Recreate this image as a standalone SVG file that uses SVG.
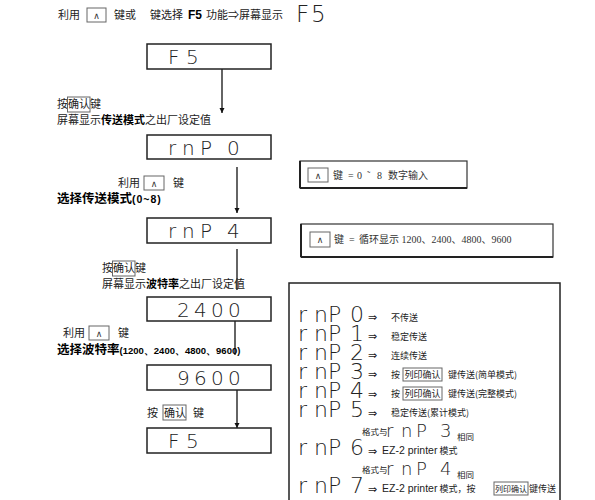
<svg xmlns="http://www.w3.org/2000/svg" width="595" height="500" viewBox="0 0 595 500">
<style>
.t{font-family:"Noto Sans CJK SC","Liberation Sans",sans-serif;font-size:11px;fill:#222}
.b{font-weight:bold;fill:#000}
.s{font-family:"Noto Sans CJK SC","Liberation Sans",sans-serif;font-size:9px;fill:#222}
.ar{font-family:"DejaVu Sans",sans-serif;font-size:11px;fill:#222}
.sr{font-family:"Liberation Serif","Noto Sans CJK SC",serif;font-size:10px;fill:#333}
.seg{font-family:"DejaVu Sans",sans-serif;font-weight:200;fill:#222}
.disp{fill:#fff;stroke:#222;stroke-width:1.5}
.key{fill:#fff;stroke:#666;stroke-width:1}
.keyt{font-family:"DejaVu Sans",sans-serif;font-size:9px;fill:#333}
.conn{stroke:#111;stroke-width:1.3;fill:none}
.lat{font-family:"Liberation Sans",sans-serif}
</style>
<defs>
<marker id="ah" viewBox="0 0 10 10" refX="10" refY="5" markerWidth="5" markerHeight="6" orient="auto" markerUnits="userSpaceOnUse">
<path d="M0,0 L10,5 L0,10 z" fill="#111"/>
</marker>
</defs>

<g id="top-line">
<text class="t" x="58" y="19">利用</text>
<rect class="key" x="87" y="8" width="19" height="14"/>
<text class="keyt" x="96.5" y="18.5" text-anchor="middle">∧</text>
<text class="t" x="114" y="19">键或</text>
<text class="t" x="150" y="19">键选择</text>
<text class="t b lat" x="188" y="19" style="font-size:12px">F5</text>
<text class="t" x="206" y="19">功能⇒屏幕显示</text>
<text class="seg" x="296 311" y="22" font-size="23">F5</text>
</g>

<g id="connectors">
<line class="conn" x1="222" y1="69" x2="222" y2="113" marker-end="url(#ah)"/>
<line class="conn" x1="237" y1="167" x2="237" y2="213" marker-end="url(#ah)"/>
<line class="conn" x1="237" y1="249" x2="237" y2="290"/>
<line class="conn" x1="235" y1="321" x2="235" y2="355"/>
<line class="conn" x1="237" y1="390" x2="237" y2="428" marker-end="url(#ah)"/>
</g>

<g id="node-f5-1">
<rect class="disp" x="147" y="44" width="124" height="25"/>
<text class="seg" x="168 186" y="64" font-size="20">F5</text>
</g>

<g id="label-1">
<text class="t" x="57" y="108">按</text>
<rect class="key" x="67.5" y="97" width="22.5" height="15"/>
<text class="t" x="68" y="108">确认</text>
<text class="t" x="90" y="108">键</text>
<text class="t" x="57" y="124">屏幕显示<tspan class="b">传送模式</tspan>之出厂设定值</text>
</g>

<g id="node-rnp0">
<rect class="disp" x="147" y="135" width="124" height="24"/>
<text class="seg" x="168 182 200 216 227" y="155" font-size="20">rnP 0</text>
</g>

<g id="label-2">
<text class="t" x="118" y="187">利用</text>
<rect class="key" x="144" y="176" width="20" height="14"/>
<text class="keyt" x="154" y="186.5" text-anchor="middle">∧</text>
<text class="t" x="173" y="187">键</text>
<text class="t b" x="57" y="203" style="font-size:12.5px">选择传送模式<tspan class="lat" style="font-size:10.5px" letter-spacing="1">(0~8)</tspan></text>
</g>

<g id="node-rnp4">
<rect class="disp" x="147" y="218" width="124" height="25"/>
<text class="seg" x="168 182 200 216 227" y="238" font-size="20">rnP 4</text>
</g>

<g id="label-3">
<text class="t" x="102" y="272">按</text>
<rect class="key" x="112.5" y="261" width="22.5" height="15"/>
<text class="t" x="113" y="272">确认</text>
<text class="t" x="135" y="272">键</text>
<text class="t" x="102" y="288">屏幕显示<tspan class="b">波特率</tspan>之出厂设定值</text>
</g>

<g id="node-2400">
<rect class="disp" x="147" y="297" width="124" height="24"/>
<text class="seg" x="177 194 211 228" y="317" font-size="20">2400</text>
</g>

<g id="label-4">
<text class="t" x="63" y="337">利用</text>
<rect class="key" x="89" y="326" width="20" height="14"/>
<text class="keyt" x="99" y="336.5" text-anchor="middle">∧</text>
<text class="t" x="118" y="337">键</text>
<text class="t b" x="57" y="354" style="font-size:12.5px">选择波特率<tspan class="lat" style="font-size:9.5px">(1200、2400、4800、9600)</tspan></text>
</g>

<g id="node-9600">
<rect class="disp" x="147" y="365" width="124" height="25"/>
<text class="seg" x="177 194 211 228" y="385" font-size="20">9600</text>
</g>

<g id="label-5">
<text class="t" x="147" y="417">按</text>
<rect class="key" x="163" y="405" width="23" height="15"/>
<text class="t" x="164" y="417">确认</text>
<text class="t" x="193" y="417">键</text>
</g>

<g id="node-f5-2">
<rect class="disp" x="147" y="428" width="124" height="25"/>
<text class="seg" x="168 186" y="448" font-size="20">F5</text>
</g>

<g id="note-a">
<rect x="300" y="161" width="167" height="27" fill="#fff" stroke="#333" stroke-width="1.2"/>
<line x1="300" y1="188" x2="467" y2="188" stroke="#222" stroke-width="2"/>
<line x1="300" y1="161" x2="300" y2="188" stroke="#222" stroke-width="2"/>
<rect class="key" x="308" y="168" width="20" height="14"/>
<text class="keyt" x="318" y="178.5" text-anchor="middle">∧</text>
<text class="sr" x="333" y="179">键</text>
<text class="sr" x="348" y="179">=</text>
<text class="sr" x="357" y="179">0</text>
<text class="sr" x="367" y="179">˜</text>
<text class="sr" x="377" y="179">8</text>
<text class="sr" x="388" y="179">数字输入</text>
</g>

<g id="note-b">
<rect x="301" y="224" width="252" height="33" fill="#fff" stroke="#333" stroke-width="1.2"/>
<line x1="301" y1="257" x2="553" y2="257" stroke="#222" stroke-width="2"/>
<line x1="301" y1="224" x2="301" y2="257" stroke="#222" stroke-width="2"/>
<rect class="key" x="310" y="232" width="20" height="15"/>
<text class="keyt" x="320" y="243" text-anchor="middle">∧</text>
<text class="sr" x="334" y="243">键</text>
<text class="sr" x="349" y="243">=</text>
<text class="sr" x="359" y="243">循环显示 1200、2400、4800、9600</text>
</g>

<g id="legend">
<rect x="289" y="283" width="271" height="222" fill="#fff" stroke="#222" stroke-width="1.5"/>
<g class="seg" font-size="22">
<text x="298 314 328 343 350" y="322">rnP 0</text>
<text x="298 314 328 343 350" y="341">rnP 1</text>
<text x="298 314 328 343 350" y="360">rnP 2</text>
<text x="298 314 328 343 350" y="379">rnP 3</text>
<text x="298 314 328 343 350" y="398">rnP 4</text>
<text x="298 314 328 343 350" y="417">rnP 5</text>
<text x="298 314 328 343 350" y="455">rnP 6</text>
<text x="298 314 328 343 350" y="493">rnP 7</text>
</g>
<g class="s">
<text class="ar" x="368" y="321">⇒</text><text x="391" y="320.5">不传送</text>
<text class="ar" x="368" y="340">⇒</text><text x="391" y="339.5">稳定传送</text>
<text class="ar" x="368" y="359">⇒</text><text x="391" y="358.5">连续传送</text>
<text class="ar" x="368" y="378">⇒</text><text x="391" y="377.5">按</text>
<rect class="key" x="403" y="368" width="39" height="13"/>
<text x="404.5" y="377.5">列印确认</text>
<text x="448" y="377.5">键传送(简单模式)</text>
<text class="ar" x="368" y="397.5">⇒</text><text x="391" y="397">按</text>
<rect class="key" x="403" y="387" width="39" height="13"/>
<text x="404.5" y="397">列印确认</text>
<text x="448" y="397">键传送(完整模式)</text>
<text class="ar" x="368" y="416.5">⇒</text><text x="391" y="416">稳定传送(累计模式)</text>
<text x="362" y="435" style="font-size:8.5px">格式与</text>
<text class="seg" x="386 401 416 432 440" y="437" font-size="18">rnP 3</text>
<text x="457" y="440" style="font-size:8.5px">相同</text>
<text class="ar" x="368" y="454.5">⇒</text><text x="382" y="454"><tspan class="lat" style="font-size:10.5px">EZ-2 printer</tspan> 模式</text>
<text x="362" y="473" style="font-size:8.5px">格式与</text>
<text class="seg" x="386 401 416 432 440" y="475" font-size="18">rnP 4</text>
<text x="457" y="478" style="font-size:8.5px">相同</text>
<text class="ar" x="368" y="492.5">⇒</text><text x="382" y="492"><tspan class="lat" style="font-size:10.5px">EZ-2 printer</tspan> 模式，按</text>
<rect class="key" x="494" y="482" width="34" height="13"/>
<text x="495" y="492" style="font-size:8px">列印确认</text>
<text x="529" y="492">键传送</text>
</g>
</g>
</svg>
